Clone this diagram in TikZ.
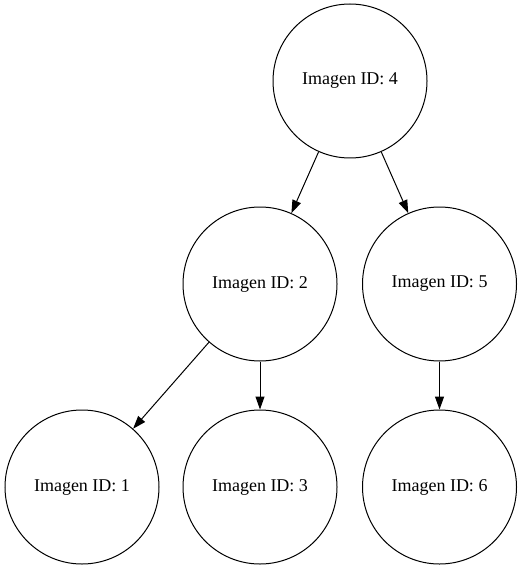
\documentclass[tikz,border=0pt]{standalone}
\usepackage{fontspec}
\setmainfont{Liberation Serif}
\usetikzlibrary{arrows.meta}
\begin{document}
\begin{tikzpicture}[x = 1pt, y = -1pt,
        img/.style = {circle, draw, line width = 1pt, minimum size = 154pt, inner sep = 0pt, font = \fontsize{18}{20}\selectfont},
        edge/.style = {line width = 1pt, -{Triangle[length = 13pt, width = 9pt]}}]

            \useasboundingbox (0, 0) rectangle (522, 569);

            \node (n4) at (350, 81) [img] {Imagen ID: 4};

            \node (n2) at (260, 284) [img] {Imagen ID: 2};
            \node (n5) at (439.5, 284) [img] {Imagen ID: 5};

            \node (n1) at (82, 487) [img] {Imagen ID: 1};
            \node (n3) at (260, 487) [img] {Imagen ID: 3};
            \node (n6) at (439.5, 487) [img] {Imagen ID: 6};

            \draw[edge] (n4) -- (n2);
            \draw[edge] (n4) -- (n5);
            \draw[edge] (n2) -- (n1);
            \draw[edge] (n2) -- (n3);
            \draw[edge] (n5) -- (n6);
        \end{tikzpicture}
\end{document}
